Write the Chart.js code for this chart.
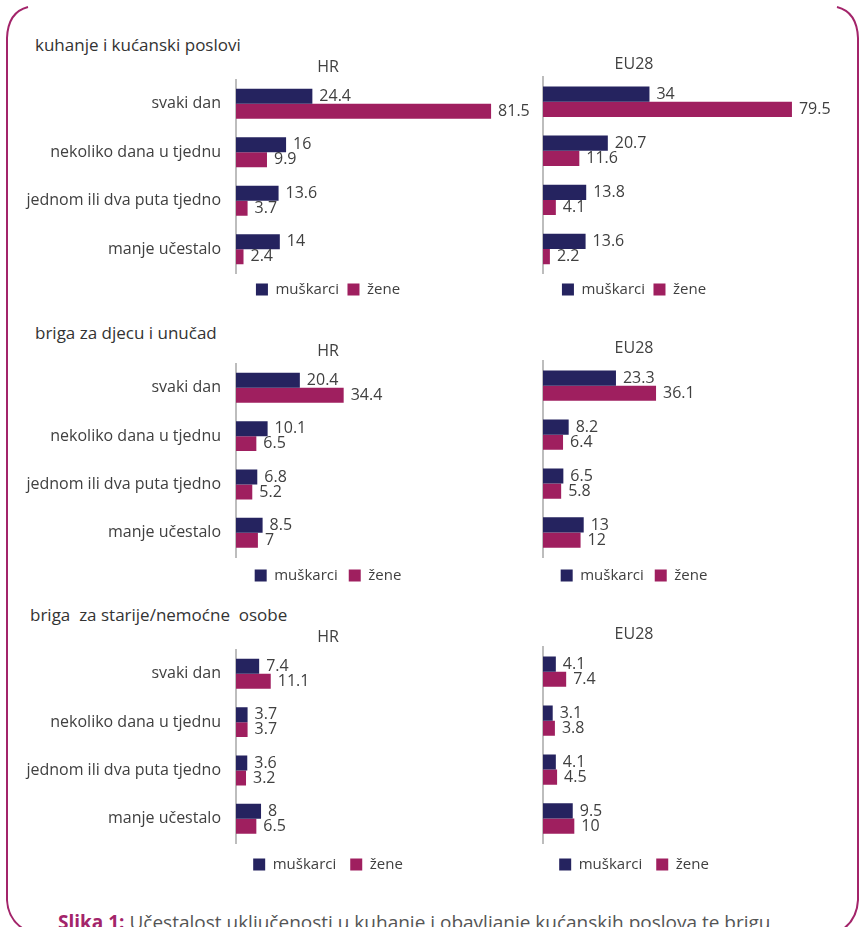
<!DOCTYPE html>
<html>
<head>
<meta charset="utf-8">
<script src="https://cdn.jsdelivr.net/npm/chart.js@4.4.1/dist/chart.umd.min.js"></script>
<style>
  body { margin: 0; background: #fff; font-family: "Open Sans", sans-serif; }
  #page { position: relative; width: 862px; height: 927px; overflow: hidden; }
  canvas { position: absolute; }
  .sec { position: absolute; font-size: 17px; color: #333; white-space: pre; line-height: 20px; }
  #caption { position: absolute; left: 58px; top: 909px; font-size: 19px; color: #555; white-space: nowrap; }
  #caption b { color: #a3246a; }
  svg { position: absolute; left: 0; top: 0; }
</style>
</head>
<body>
<div id="page">
  <svg width="862" height="927">
    <path d="M 28 7 Q 8 12 7 38 L 7 900 Q 8 921 27 931" fill="none" stroke="#a3246a" stroke-width="2"/>
    <path d="M 837 7 Q 857 12 858 38 L 858 900 Q 857 921 840 931" fill="none" stroke="#a3246a" stroke-width="2"/>
  </svg>

  <div class="sec" style="left:35px; top:35px;">kuhanje i kućanski poslovi</div>
  <div class="sec" style="left:35px; top:323px;">briga za djecu i unučad</div>
  <div class="sec" style="left:30px; top:605px;">briga  za starije/nemoćne  osobe</div>

  <canvas id="c1hr" width="616" height="252" style="left:20px; top:55px;"></canvas>
  <canvas id="c1eu" width="428" height="252" style="left:420px; top:55px;"></canvas>
  <canvas id="c2hr" width="616" height="254" style="left:20px; top:339px;"></canvas>
  <canvas id="c2eu" width="428" height="254" style="left:420px; top:339px;"></canvas>
  <canvas id="c3hr" width="616" height="257" style="left:20px; top:625px;"></canvas>
  <canvas id="c3eu" width="428" height="257" style="left:420px; top:625px;"></canvas>

  <div id="caption"><b>Slika 1:</b> Učestalost uključenosti u kuhanje i obavljanje kućanskih poslova te brigu</div>
</div>

<script>
const categories = ['svaki dan', 'nekoliko dana u tjednu', 'jednom ili dva puta tjedno', 'manje učestalo'];
const seriesNames = ['muškarci', 'žene'];

// kuhanje i kućanski poslovi
const cookHrMen = [24.4, 16, 13.6, 14];
const cookHrWomen = [81.5, 9.9, 3.7, 2.4];
const cookEuMen = [34, 20.7, 13.8, 13.6];
const cookEuWomen = [79.5, 11.6, 4.1, 2.2];

// briga za djecu i unučad
const childHrMen = [20.4, 10.1, 6.8, 8.5];
const childHrWomen = [34.4, 6.5, 5.2, 7];
const childEuMen = [23.3, 8.2, 6.5, 13];
const childEuWomen = [36.1, 6.4, 5.8, 12];

// briga za starije/nemoćne osobe
const elderHrMen = [7.4, 3.7, 3.6, 8];
const elderHrWomen = [11.1, 3.7, 3.2, 6.5];
const elderEuMen = [4.1, 3.1, 4.1, 9.5];
const elderEuWomen = [7.4, 3.8, 4.5, 10];

const navy = '#25235f';
const magenta = '#9f1f5f';

Chart.defaults.font.family = '"Open Sans", sans-serif';
Chart.defaults.font.size = 16;
Chart.defaults.color = '#404040';

// value labels at the end of each bar
const barLabels = {
  id: 'barLabels',
  afterDatasetsDraw(chart) {
    const ctx = chart.ctx;
    ctx.save();
    ctx.font = '16px "Open Sans", sans-serif';
    ctx.fillStyle = '#404040';
    ctx.textBaseline = 'middle';
    ctx.textAlign = 'left';
    chart.data.datasets.forEach((ds, i) => {
      chart.getDatasetMeta(i).data.forEach((bar, j) => {
        ctx.fillText(String(ds.data[j]), bar.x + 7, bar.y);
      });
    });
    ctx.restore();
  }
};

function makeChart(id, title, men, women, xMax, axisWidth, showCats, legendPad) {
  new Chart(document.getElementById(id), {
    type: 'bar',
    data: {
      labels: categories,
      datasets: [
        { label: seriesNames[0], data: men, backgroundColor: navy, borderWidth: 0 },
        { label: seriesNames[1], data: women, backgroundColor: magenta, borderWidth: 0 }
      ]
    },
    options: {
      responsive: false,
      animation: false,
      indexAxis: 'y',
      categoryPercentage: 0.62,
      barPercentage: 1,
      layout: { padding: 0 },
      scales: {
        x: { display: false, min: 0, max: xMax },
        y: {
          grid: { display: false, drawTicks: false },
          border: { display: true, color: '#bdbdbd', width: 2 },
          ticks: { display: showCats, padding: 15, color: '#404040', font: { size: 16 } },
          afterFit(scale) { scale.width = axisWidth; }
        }
      },
      plugins: {
        title: { display: true, text: title, color: '#404040', font: { size: 16, weight: 'normal' }, padding: { top: 0, bottom: 3 } },
        legend: {
          position: 'bottom',
          labels: { boxWidth: 12, boxHeight: 12, padding: legendPad, color: '#404040', font: { size: 15 } }
        },
        tooltip: { enabled: false }
      }
    },
    plugins: [barLabels]
  });
}

// HR plots: axis at page x 236, EU28 plots: axis at page x 543, ~3.13 px per unit
makeChart('c1hr', 'HR', cookHrMen, cookHrWomen, 127.8, 216, true, 8.5);
makeChart('c1eu', 'EU28', cookEuMen, cookEuWomen, 97.4, 123, false, 8.5);
makeChart('c2hr', 'HR', childHrMen, childHrWomen, 127.8, 216, true, 11);
makeChart('c2eu', 'EU28', childEuMen, childEuWomen, 97.4, 123, false, 11);
makeChart('c3hr', 'HR', elderHrMen, elderHrWomen, 127.8, 216, true, 14);
makeChart('c3eu', 'EU28', elderEuMen, elderEuWomen, 97.4, 123, false, 14);
</script>
</body>
</html>
